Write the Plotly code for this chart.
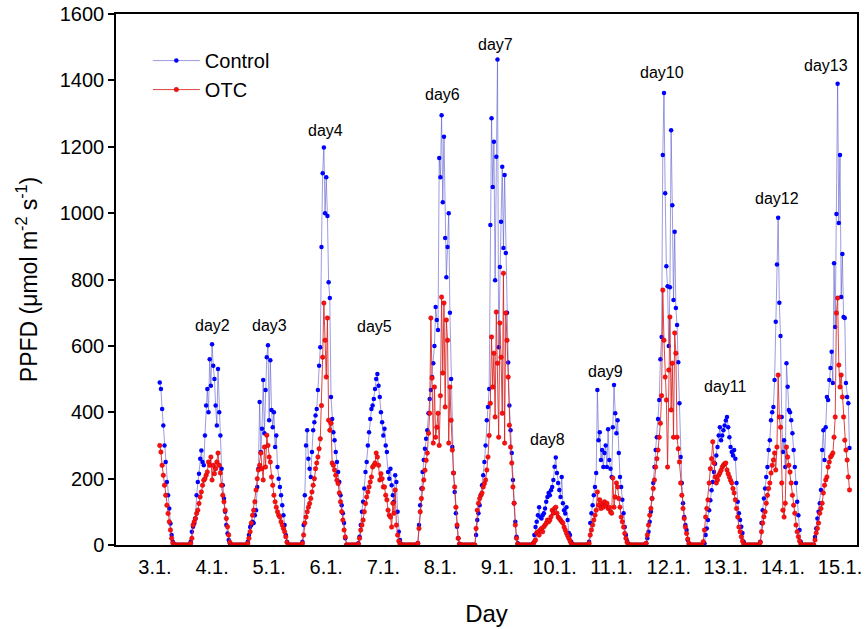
import plotly.graph_objects as go

# ---------------- data (half-hourly PPFD, 00:00 ... 23:30 for each date) ----------------
days = [3, 4, 5, 6, 7, 8, 9, 10, 11, 12, 13, 14, 15]
tick_labels = ["3.1.", "4.1.", "5.1.", "6.1.", "7.1.", "8.1.", "9.1.",
               "10.1.", "11.1.", "12.1.", "13.1.", "14.1.", "15.1."]
N = None

control_03 = [N, N, N, N, N, N, N, N,  N, N, N, N, N, N, N, N,  N, N, N, N, N, N, N, N,
              N, N, N, N, 490, 470, 410, 360,  300, 250, 190, 150, 110, 65, 30, 10,  2, 0, 0, 0, 0, 0, 0, 0]
otc_03 = [N, N, N, N, N, N, N, N,  N, N, N, N, N, N, N, N,  N, N, N, N, N, N, N, N,
          N, N, N, N, 300, 280, 240, 210,  180, 150, 120, 95, 70, 45, 20, 6,  1, 0, 0, 0, 0, 0, 0, 0]

control_04 = [0, 0, 0, 0, 0, 0, 10, 40,  55, 65, 80, 150, 190, 215, 260, 285,
              250, 240, 330, 420, 470, 400, 560, 480,  605, 540, 500, 420, 360, 530, 400, 330,
              230, 180, 140, 100, 60, 35, 15, 5,  0, 0, 0, 0, 0, 0, 0, 0]
otc_04 = [0, 0, 0, 0, 0, 0, 5, 20,  60, 70, 80, 95, 105, 125, 145, 160,
          180, 195, 200, 210, 220, 250, 240, 265,  196, 240, 215, 230, 250, 277, 240, 217,
          180, 150, 130, 105, 80, 55, 30, 8,  0, 0, 0, 0, 0, 0, 0, 0]

control_05 = [0, 0, 0, 0, 0, 0, 10, 30,  54, 60, 70, 66, 90, 105, 175, 230,
              431, 280, 350, 497, 337, 467, 566, 602,  376, 557, 407, 355, 400, 295, 330, 235,
              200, 175, 150, 120, 90, 60, 30, 10,  0, 0, 0, 0, 0, 0, 0, 0]
otc_05 = [0, 0, 0, 0, 0, 0, 5, 20,  40, 66, 90, 105, 130, 166, 200, 226,
          240, 277, 230, 196, 295, 235, 331, 300,  265, 250, 205, 180, 150, 130, 114, 100,
          90, 84, 70, 60, 50, 40, 25, 8,  0, 0, 0, 0, 0, 0, 0, 0]

control_06 = [0, 0, 0, 0, 10, 60, 150, 300,  346, 260, 230, 205, 280, 346, 370, 390,
              410, 467, 540, 596, 898, 1120, 1198, 1000,  1108, 991, 792, 744, 446, 380, 340, 316,
              280, 250, 220, 190, 150, 120, 96, 66,  20, 0, 0, 0, 0, 0, 0, 0]
otc_06 = [0, 0, 0, 0, 5, 30, 66, 84,  100, 114, 125, 140, 160, 180, 200, 230,
          247, 265, 290, 320, 420, 566, 729, 617,  506, 684, 376, 346, 367, 247, 240, 226,
          210, 195, 185, 157, 130, 100, 75, 45,  24, 0, 0, 0, 0, 0, 0, 0]

control_07 = [0, 0, 0, 5, 25, 60, 100, 130,  170, 220, 250, 300, 340, 380, 410, 420,
              440, 470, 500, 515, 480, 446, 400, 370,  330, 350, 300, 280, 220, 200, 230, 180,
              150, 130, 210, 190, 100, 40, 15, 3,  0, 0, 0, 0, 0, 0, 0, 0]
otc_07 = [0, 0, 0, 3, 20, 45, 60, 75,  100, 125, 145, 160, 175, 190, 205, 235,
          240, 247, 277, 265, 240, 196, 215, 200,  175, 175, 150, 136, 105, 90, 84, 54,
          126, 96, 166, 60, 30, 12, 4, 0,  0, 0, 0, 0, 0, 0, 0, 0]

control_08 = [0, 0, 0, 0, 0, 5, 60, 120,  170, 220, 256, 290, 320, 346, 397, 440,
              467, 506, 548, 600, 717, 678, 648, 1166,  1108, 1295, 1033, 1230, 925, 807, 898, 1000,
              700, 500, 295, 217, 160, 96, 55, 20,  3, 0, 0, 0, 0, 0, 0, 0]
otc_08 = [0, 0, 0, 0, 0, 5, 50, 100,  140, 170, 196, 225, 255, 277, 337, 397,
          684, 503, 307, 476, 325, 355, 397, 300,  450, 747, 518, 729, 416, 678, 617, 307,
          476, 376, 286, 217, 175, 114, 60, 20,  3, 0, 0, 0, 0, 0, 0, 0]

control_09 = [0, 0, 0, 0, 0, 0, 30, 75,  96, 120, 150, 180, 210, 250, 300, 376,
              416, 470, 964, 1286, 1079, 1215, 798, 1170,  1463, 596, 838, 974, 1140, 895, 1115, 880,
              700, 550, 420, 346, 277, 196, 126, 70,  25, 5, 0, 0, 0, 0, 0, 0]
otc_09 = [0, 0, 0, 0, 0, 0, 50, 105,  126, 140, 150, 157, 175, 185, 196, 226,
          265, 330, 427, 627, 476, 578, 386, 702,  548, 325, 669, 566, 397, 819, 307, 699,
          617, 506, 361, 295, 247, 175, 126, 60,  20, 3, 0, 0, 0, 0, 0, 0]

control_10 = [0, 0, 0, 0, 0, 0, 5, 30,  54, 70, 90, 114, 84, 80, 90, 96,
              110, 130, 145, 157, 150, 165, 175, 196,  236, 264, 217, 187, 166, 145, 205, 126,
              105, 95, 114, 75, 36, 30, 10, 2,  0, 0, 0, 0, 0, 0, 0, 0]
otc_10 = [0, 0, 0, 0, 0, 0, 3, 10,  15, 36, 40, 30, 45, 50, 40, 55,
          60, 66, 75, 70, 75, 85, 105, 96,  110, 114, 96, 84, 80, 75, 70, 66,
          54, 45, 36, 28, 20, 12, 5, 1,  0, 0, 0, 0, 0, 0, 0, 0]

control_11 = [0, 0, 0, 0, 0, 10, 66, 96,  120, 150, 175, 217, 467, 316, 340, 256,
              286, 235, 277, 300, 235, 349, 256, 230,  205, 355, 482, 397, 337, 376, 277, 205,
              175, 136, 96, 54, 30, 12, 3, 0,  0, 0, 0, 0, 0, 0, 0, 0]
otc_11 = [0, 0, 0, 0, 0, 5, 30, 45,  60, 75, 90, 105, 160, 120, 136, 110,
          125, 114, 130, 120, 126, 110, 114, 100,  96, 202, 114, 145, 187, 175, 140, 114,
          84, 70, 54, 35, 20, 8, 2, 0,  0, 0, 0, 0, 0, 0, 0, 0]

control_12 = [0, 0, 0, 0, 0, 5, 20, 40,  70, 100, 140, 187, 235, 286, 325, 380,
              437, 560, 627, 1175, 1362, 1060, 840, 780,  600, 777, 1250, 1024, 738, 944, 714, 663,
              551, 427, 265, 187, 126, 84, 60, 45,  15, 2, 0, 0, 0, 0, 0, 0]
otc_12 = [0, 0, 0, 0, 0, 5, 30, 60,  90, 110, 140, 170, 196, 235, 260, 286,
          325, 367, 450, 768, 617, 506, 437, 235,  527, 687, 407, 548, 325, 639, 578, 325,
          290, 250, 187, 150, 110, 80, 54, 35,  18, 5, 0, 0, 0, 0, 0, 0]

control_13 = [0, 0, 0, 0, 0, 0, 5, 30,  50, 75, 105, 135, 165, 190, 220, 245,
              270, 295, 330, 355, 316, 330, 346, 360,  375, 386, 355, 325, 295, 280, 270, 286,
              260, 187, 130, 96, 75, 55, 36, 10,  0, 0, 0, 0, 0, 0, 0, 0]
otc_13 = [0, 0, 0, 0, 0, 10, 45, 84,  110, 136, 187, 230, 260, 311, 247, 205,
          187, 196, 210, 217, 225, 235, 240, 245,  247, 226, 215, 205, 195, 187, 170, 157,
          136, 110, 84, 54, 40, 25, 12, 3,  0, 0, 0, 0, 0, 0, 0, 0]

control_14 = [0, 0, 0, 0, 0, 10, 66, 105,  140, 170, 205, 235, 286, 316, 376, 400,
              416, 497, 673, 845, 986, 730, 630, 386,  280, 316, 235, 548, 477, 407, 400, 376,
              337, 286, 235, 187, 130, 90, 45, 10,  0, 0, 0, 0, 0, 0, 0, 0]
otc_14 = [0, 0, 0, 0, 0, 8, 40, 66,  85, 100, 126, 150, 170, 187, 217, 240,
          256, 277, 226, 295, 512, 386, 355, 187,  105, 84, 126, 295, 265, 240, 220, 187,
          150, 120, 96, 60, 40, 25, 12, 3,  0, 0, 0, 0, 0, 0, 0, 0]

control_15 = [0, 0, 0, 24, 50, 80, 100, 126,  166, 286, 346, 256, 355, 446, 437, 497,
              533, 582, 488, 849, 657, 997, 1390, 970,  1175, 747, 877, 687, 684, 488, 446, 427,
              292, N, N, N, N, N, N, N,  N, N, N, N, N, N, N, N]
otc_15 = [0, 0, 0, 15, 36, 50, 66, 96,  110, 126, 157, 180, 196, 205, 235, 250,
          265, 270, 277, 325, 386, 699, 744, 542,  476, 512, 446, 386, 316, 286, 256, 205,
          166, N, N, N, N, N, N, N,  N, N, N, N, N, N, N, N]

control_days = [control_03, control_04, control_05, control_06, control_07, control_08, control_09,
                control_10, control_11, control_12, control_13, control_14, control_15]
otc_days = [otc_03, otc_04, otc_05, otc_06, otc_07, otc_08, otc_09,
            otc_10, otc_11, otc_12, otc_13, otc_14, otc_15]

peak_labels = ["day2", "day3", "day4", "day5", "day6", "day7", "day8",
               "day9", "day10", "day11", "day12", "day13"]
peak_label_x = [4.50, 5.50, 6.49, 7.35, 8.53, 9.47, 10.38, 11.40, 12.38, 13.50, 14.40, 15.26]
peak_label_y = [660, 660, 1250, 657, 1358, 1509, 319, 524, 1425, 479, 1045, 1446]

# ---------------- build series ----------------
def flatten(day_lists):
    xs, ys = [], []
    for d, vals in zip(days, day_lists):
        assert len(vals) == 48, (d, len(vals))
        for k, v in enumerate(vals):
            xs.append(d + k / 48.0)
            ys.append(v)
    return xs, ys

xc, yc = flatten(control_days)
xo, yo = flatten(otc_days)

FONT = "Arial, 'Liberation Sans', sans-serif"

fig = go.Figure()
fig.add_trace(go.Scatter(
    x=xc, y=yc, name="Control", mode="lines+markers",
    line=dict(color="rgba(90,90,205,0.6)", width=1),
    marker=dict(color="#0000ff", size=4.5, line=dict(width=0)),
    connectgaps=False))
fig.add_trace(go.Scatter(
    x=xo, y=yo, name="OTC", mode="lines+markers",
    line=dict(color="rgba(215,35,35,0.85)", width=1),
    marker=dict(color="#ff1010", size=4.5, line=dict(color="#c00000", width=0.5)),
    connectgaps=False))

for t, ax_, ay_ in zip(peak_labels, peak_label_x, peak_label_y):
    fig.add_annotation(x=ax_, y=ay_, text=t, showarrow=False,
                       font=dict(family=FONT, size=16, color="black"))

fig.update_layout(
    width=865, height=629,
    margin=dict(l=116, r=8, t=14, b=84, autoexpand=False),
    paper_bgcolor="white", plot_bgcolor="white",
    font=dict(family=FONT, color="black"),
    showlegend=True,
    legend=dict(x=0.043, y=0.949, xanchor="left", yanchor="top",
                font=dict(family=FONT, size=20), bgcolor="rgba(0,0,0,0)",
                itemwidth=47, tracegroupgap=0),
)
fig.update_xaxes(
    range=[2.817, 15.798], automargin=False,
    tickmode="array", tickvals=[d + 0.5 for d in days], ticktext=tick_labels,
    ticks="", ticklabelstandoff=3, showgrid=False, zeroline=False,
    showline=True, linecolor="black", linewidth=1.5, mirror=True,
    tickfont=dict(family=FONT, size=20),
    title=dict(text="Day", font=dict(family=FONT, size=24), standoff=28),
)
fig.update_yaxes(
    range=[0, 1600], automargin=False, tickmode="linear", tick0=0, dtick=200,
    ticks="outside", ticklen=6, tickwidth=1.5, tickcolor="black",
    showgrid=False, zeroline=False,
    showline=True, linecolor="black", linewidth=1.5, mirror=True,
    tickfont=dict(family=FONT, size=20),
    title=dict(text="PPFD (\u03bcmol m<sup>-2</sup> s<sup>-1</sup>)",
               font=dict(family=FONT, size=23), standoff=16),
)

fig.write_html("out.html", config={"displayModeBar": False},
               post_script="document.body.style.margin='0px';document.body.style.overflow='hidden';")
